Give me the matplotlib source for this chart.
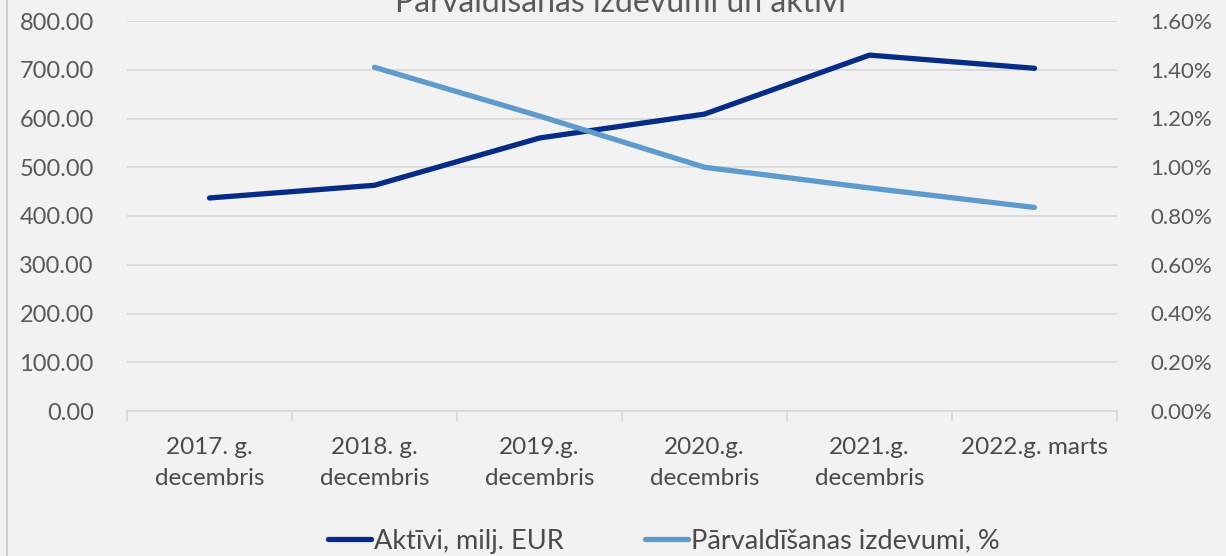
import matplotlib
matplotlib.use("Agg")
import matplotlib.pyplot as plt
from matplotlib.ticker import FuncFormatter

categories = ["2017. g.\ndecembris", "2018. g.\ndecembris", "2019.g.\ndecembris",
              "2020.g.\ndecembris", "2021.g.\ndecembris", "2022.g. marts"]
aktivi = [437, 463, 560, 609, 730, 703]
izdevumi_x = [1, 2, 3, 4, 5]
izdevumi = [1.41, 1.21, 1.00, 0.915, 0.835]

title = "Pārvaldīšanas izdevumi un aktīvi"
label_aktivi = "Aktīvi, milj. EUR"
label_izdev = "Pārvaldīšanas izdevumi, %"

BG = "#f2f2f2"
DARK = "#062c87"
LIGHT = "#5e9acb"
GRID = "#d9d9d9"
TXT = "#595959"
TXT_DARK = "#4a4a4a"

plt.rcParams["font.family"] = ["Lato", "DejaVu Sans"]

fig = plt.figure(figsize=(12.26, 5.56), dpi=100, facecolor=BG)
ax = fig.add_axes([127 / 1226, 1 - 411 / 556, 990 / 1226, 390 / 556])
ax.set_facecolor(BG)
ax2 = ax.twinx()

x = list(range(len(categories)))
l1, = ax.plot(x, aktivi, color=DARK, lw=3.8, solid_capstyle="round",
              solid_joinstyle="round", label=label_aktivi)
l2, = ax2.plot(izdevumi_x, izdevumi, color=LIGHT, lw=3.8, solid_capstyle="round",
               solid_joinstyle="round", label=label_izdev)

ax.set_xlim(-0.5, len(categories) - 0.5)
ax.set_ylim(0, 800)
ax2.set_ylim(0, 1.6)
ax.set_yticks(range(0, 801, 100))
ax2.set_yticks([i * 0.2 for i in range(9)])
ax.yaxis.set_major_formatter(FuncFormatter(lambda v, p: f"{v:.2f}"))
ax2.yaxis.set_major_formatter(FuncFormatter(lambda v, p: f"{v:.2f}%"))

ax.grid(axis="y", color=GRID, lw=1.3)
ax.set_axisbelow(True)
for a in (ax, ax2):
    for s in a.spines.values():
        s.set_visible(False)
ax.spines["bottom"].set_visible(True)
ax.spines["bottom"].set_color(GRID)
ax.spines["bottom"].set_linewidth(1.3)

ax.set_xticks(x)
ax.set_xticklabels(categories)
ax.set_xticks([i - 0.5 for i in range(len(categories) + 1)], minor=True)
ax.tick_params(axis="x", which="major", length=0, pad=19, labelsize=17.5, labelcolor=TXT_DARK)
ax.tick_params(axis="x", which="minor", length=7, color=GRID, width=1.3)
ax.tick_params(axis="y", length=0, pad=24, labelsize=17, labelcolor=TXT)
ax2.tick_params(axis="y", length=0, pad=24, labelsize=16, labelcolor=TXT)
for t in ax.get_xticklabels():
    t.set_linespacing(1.55)

fig.text(620 / 1226, 1 - 3 / 556, title, ha="center", va="center",
         fontsize=23, color=TXT)

fig.legend(handles=[l1, l2], loc="center", bbox_to_anchor=(664 / 1226, 1 - 541 / 556),
           ncol=2, frameon=False, fontsize=19.5, handlelength=1.6, handletextpad=0.1,
           columnspacing=3.0, labelcolor=TXT_DARK)

fig.add_artist(plt.Line2D([7 / 1226, 7 / 1226], [0, 1], transform=fig.transFigure,
                          color="#d0d0d0", lw=1.5))

fig.savefig("out.png", dpi=100, facecolor=BG)
